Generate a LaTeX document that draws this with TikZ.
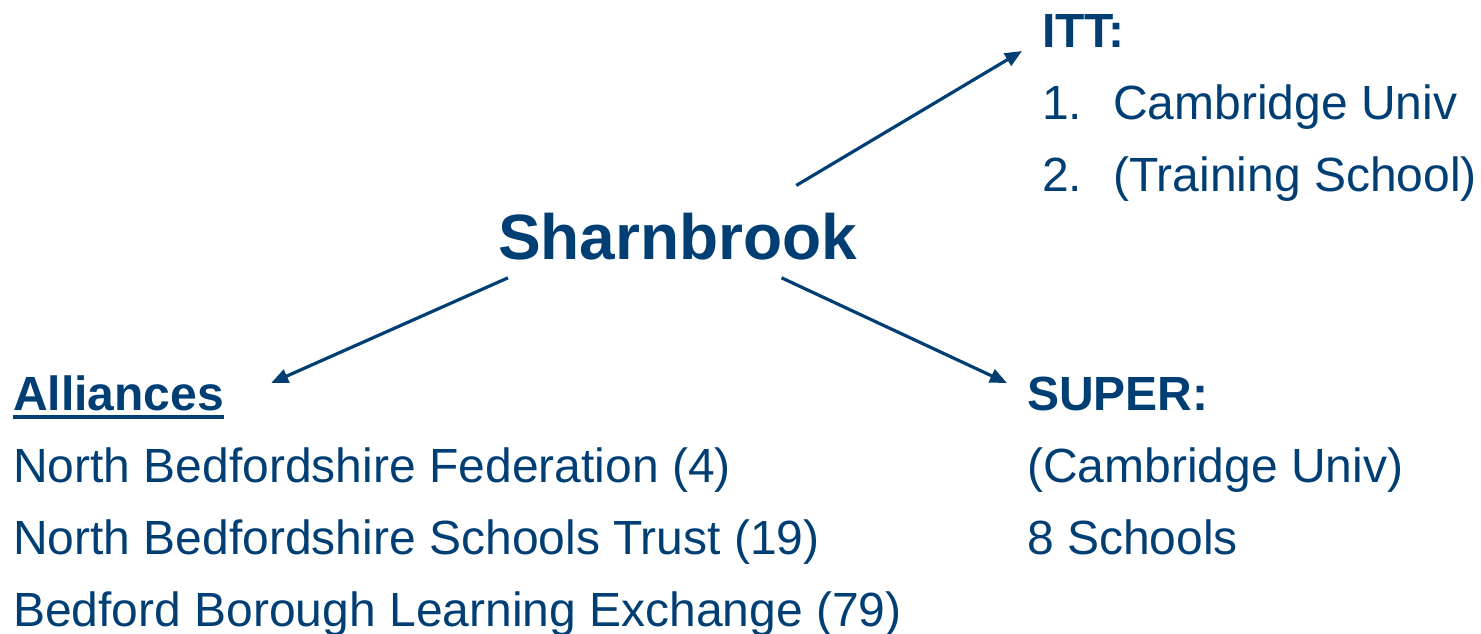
\documentclass[tikz,border=0pt]{standalone}
\usepackage{fontspec}
\setmainfont{Liberation Sans}
\usetikzlibrary{arrows.meta}
\definecolor{navy}{RGB}{0,62,116}

\begin{document}
\begin{tikzpicture}[x=1pt, y=-1pt,
    txt/.style={anchor=base west, inner sep=0pt, text=navy, font=\fontsize{48}{58}\selectfont},
    head/.style={txt, font=\fontsize{48}{58}\selectfont\bfseries},
    link/.style={-{Triangle[length=17pt, width=14pt]}, line width=3.2pt, draw=navy}]
    \useasboundingbox (0,0) rectangle (1481,634);

    % Centre
    \node[txt, font=\fontsize{64}{77}\selectfont\bfseries] (sharn) at (498,259) {Sharnbrook};

    % ITT
    \node[head] (itt) at (1042,48) {ITT:};
    \node[txt] (itt1) at (1042,119.5) {\makebox[71pt][l]{1.}Cambridge Univ};
    \node[txt] (itt2) at (1042,191) {\makebox[71pt][l]{2.}(Training School)};

    % Alliances
    \node[head] (alli) at (13,410) {Alliances};
    \node[txt] (fed) at (13,482.5) {North Bedfordshire Federation (4)};
    \node[txt] (trust) at (13,554.5) {North Bedfordshire Schools Trust (19)};
    \node[txt] (blex) at (13,626) {Bedford Borough Learning Exchange (79)};
    \draw[navy, line width=3.5pt] ([yshift=-7pt]alli.base west) -- ([yshift=-7pt]alli.base east);

    % SUPER
    \node[head] (super) at (1027,410) {SUPER:};
    \node[txt] (camb) at (1027,482.5) {(Cambridge Univ)};
    \node[txt] (eight) at (1027,554.5) {8 Schools};

    % Arrows
    \draw[link] ([shift={(118.5,-27)}]sharn.north) -- ([shift={(-20,3)}]itt.base west);
    \draw[link] ([shift={(10,18)}]sharn.south west) -- ([shift={(47,-27)}]alli.base east);
    \draw[link] ([shift={(-76,18)}]sharn.south east) -- ([shift={(-20,-27)}]super.base west);
\end{tikzpicture}
\end{document}
